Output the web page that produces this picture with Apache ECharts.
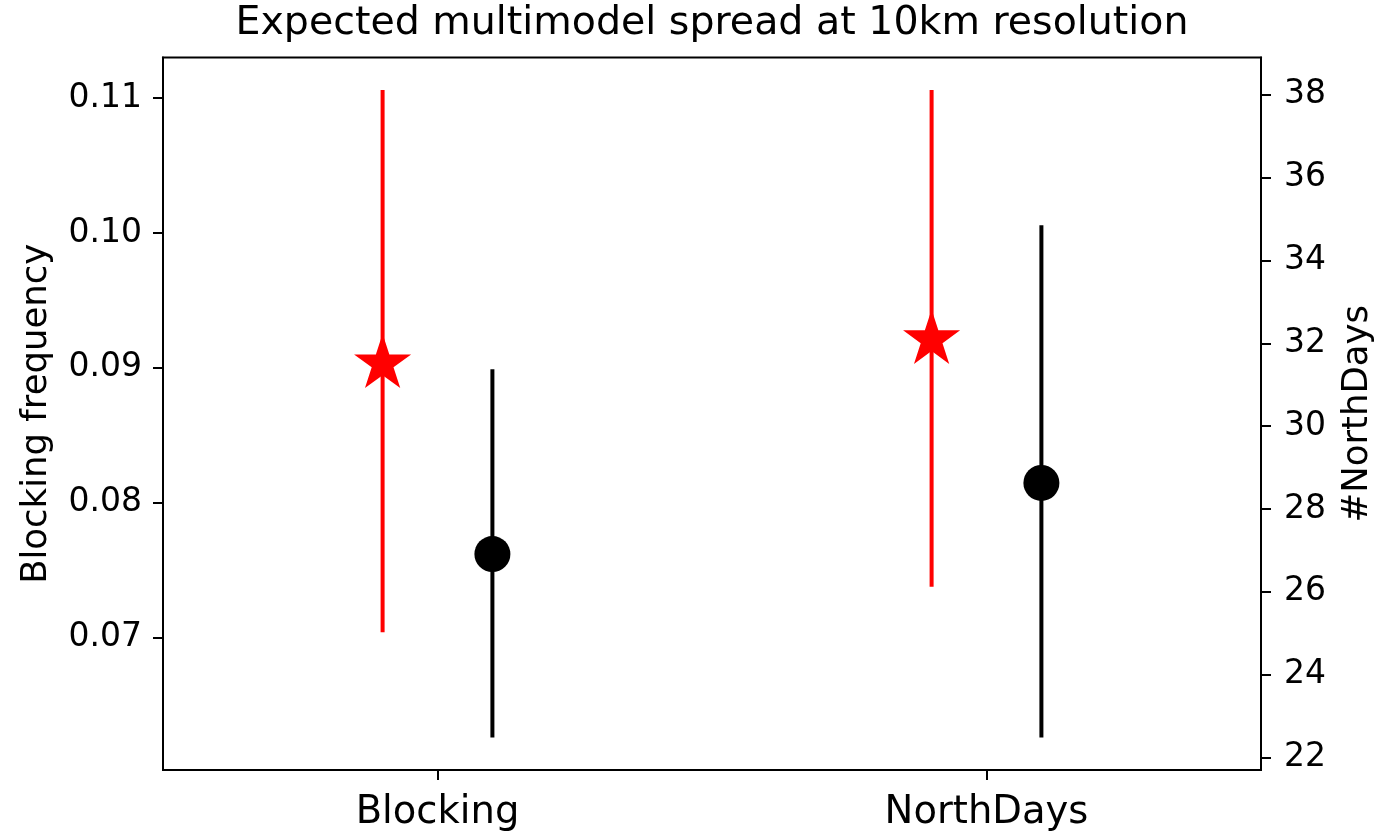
<!DOCTYPE html>
<html>
<head>
<meta charset="utf-8">
<script src="https://cdn.jsdelivr.net/npm/echarts@6/dist/echarts.min.js"></script>
<style>
  html, body { margin: 0; padding: 0; background: #ffffff; }
  #chart { width: 1390px; height: 832px; }
</style>
</head>
<body>
<div id="chart"></div>
<script>
// Categories on the x axis (Blocking on the left axis, NorthDays on the right axis)
const categories = ['Blocking', 'NorthDays'];

// Expected spread (red stars): centre, lower and upper ends
const expectedCenter = [0.0903, 32.09];
const expectedLow    = [0.0704, 26.12];
const expectedHigh   = [0.1106, 38.12];

// Current ensemble spread (black dots): centre, lower and upper ends
const currentCenter = [0.0762, 28.63];
const currentLow    = [0.0626, 22.48];
const currentHigh   = [0.0899, 34.85];

// Tick values
const leftTicks  = [0.07, 0.08, 0.09, 0.10, 0.11];
const rightTicks = [22, 24, 26, 28, 30, 32, 34, 36, 38];

const FONT = 'DejaVu Sans';

// Axis extent: data range plus 5% padding on each side
function paddedRange(i) {
  const lo = Math.min(expectedLow[i], currentLow[i]);
  const hi = Math.max(expectedHigh[i], currentHigh[i]);
  const pad = 0.05 * (hi - lo);
  return [lo - pad, hi + pad];
}
const leftRange = paddedRange(0);
const rightRange = paddedRange(1);

// Pentagram points around a centre, one point facing up
function starPoints(cx, cy, R) {
  const pts = [];
  const r = R * 0.381966;
  for (let k = 0; k < 10; k++) {
    const a = -Math.PI / 2 + k * Math.PI / 5;
    const rad = k % 2 === 0 ? R : r;
    pts.push([cx + rad * Math.cos(a), cy + rad * Math.sin(a)]);
  }
  return pts;
}

// Vertical error bar with a marker, shifted sideways by a fraction of the band
function errorSeries(name, catIdx, center, low, high, color, marker, shift) {
  return {
    name: name,
    type: 'custom',
    yAxisIndex: catIdx,
    encode: { x: 0, y: [1, 2, 3] },
    data: [[catIdx, low[catIdx], center[catIdx], high[catIdx]]],
    renderItem: function (params, api) {
      const band = api.size([1, 0])[0];
      const c = api.coord([api.value(0), api.value(2)]);
      const yLow = api.coord([api.value(0), api.value(1)])[1];
      const yHigh = api.coord([api.value(0), api.value(3)])[1];
      const x = c[0] + shift * band;
      const children = [{
        type: 'line',
        shape: { x1: x, y1: yLow, x2: x, y2: yHigh },
        style: { stroke: color, lineWidth: 4 }
      }];
      if (marker === 'star') {
        children.push({
          type: 'polygon',
          shape: { points: starPoints(x, c[1], 30) },
          style: { fill: color }
        });
      } else {
        children.push({
          type: 'circle',
          shape: { cx: x, cy: c[1], r: 18 },
          style: { fill: color }
        });
      }
      return { type: 'group', children: children };
    }
  };
}

const chart = echarts.init(document.getElementById('chart'), null, { renderer: 'canvas' });

const axisLineStyle = { color: '#000000', width: 2 };

chart.setOption({
  animation: false,
  backgroundColor: '#ffffff',
  title: {
    text: 'Expected multimodel spread at 10km resolution',
    left: 712,
    top: 4,
    padding: 0,
    textAlign: 'center',
    textStyle: { fontFamily: FONT, fontSize: 39.5, fontWeight: 'normal', color: '#000000' }
  },
  grid: {
    left: 163,
    right: 129,
    top: 57.5,
    bottom: 62,
    show: true,
    borderColor: '#000000',
    borderWidth: 2,
    outerBoundsMode: 'none'
  },
  xAxis: {
    type: 'category',
    data: categories,
    boundaryGap: true,
    axisLine: { show: true, lineStyle: axisLineStyle },
    axisTick: { show: true, alignWithLabel: true, length: 10, lineStyle: axisLineStyle },
    axisLabel: { fontFamily: FONT, fontSize: 38.5, color: '#000000', margin: 23 },
    splitLine: { show: false }
  },
  yAxis: [
    {
      type: 'value',
      position: 'left',
      min: leftRange[0],
      max: leftRange[1],
      axisLine: { show: true, lineStyle: axisLineStyle },
      axisTick: { show: true, length: 10, lineStyle: axisLineStyle, customValues: leftTicks },
      axisLabel: {
        customValues: leftTicks,
        formatter: function (v) { return v.toFixed(2); },
        fontFamily: FONT, fontSize: 33, color: '#000000', margin: 21
      },
      splitLine: { show: false },
      name: 'Blocking frequency',
      nameLocation: 'middle',
      nameGap: 108,
      nameMoveOverlap: false,
      nameTextStyle: { fontFamily: FONT, fontSize: 35.5, color: '#000000' }
    },
    {
      type: 'value',
      position: 'right',
      min: rightRange[0],
      max: rightRange[1],
      axisLine: { show: true, lineStyle: axisLineStyle },
      axisTick: { show: true, length: 10, lineStyle: axisLineStyle, customValues: rightTicks },
      axisLabel: {
        customValues: rightTicks,
        formatter: function (v) { return String(Math.round(v)); },
        fontFamily: FONT, fontSize: 33, color: '#000000', margin: 23
      },
      splitLine: { show: false },
      name: '#NorthDays',
      nameLocation: 'middle',
      nameGap: 79,
      nameMoveOverlap: false,
      nameTextStyle: { fontFamily: FONT, fontSize: 35.5, color: '#000000' }
    }
  ],
  series: [
    errorSeries('Expected', 0, expectedCenter, expectedLow, expectedHigh, '#ff0000', 'star', -0.1),
    errorSeries('Current', 0, currentCenter, currentLow, currentHigh, '#000000', 'circle', 0.1),
    errorSeries('Expected', 1, expectedCenter, expectedLow, expectedHigh, '#ff0000', 'star', -0.1),
    errorSeries('Current', 1, currentCenter, currentLow, currentHigh, '#000000', 'circle', 0.1)
  ]
});
</script>
</body>
</html>
